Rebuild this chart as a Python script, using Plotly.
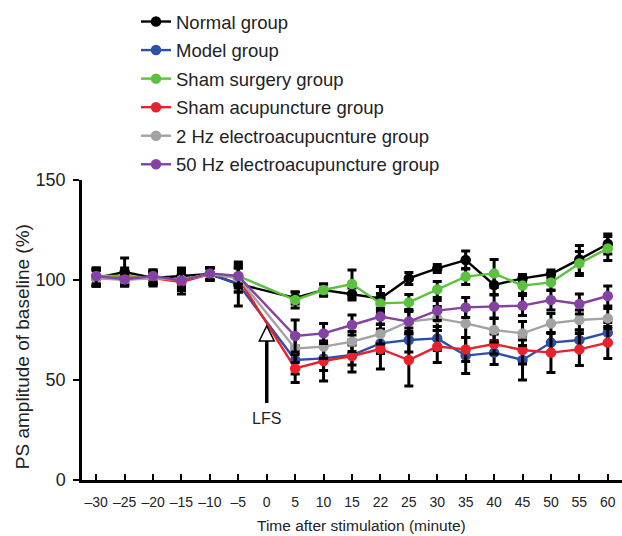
import plotly.graph_objects as go

x_labels = ["–30", "–25", "–20", "–15", "–10", "–5", "0", "5", "10", "15",
            "22", "25", "30", "35", "40", "45", "50", "55", "60"]

series_names = ["Normal group", "Model group", "Sham surgery group",
                "Sham acupuncture group", "2 Hz electroacupucnture group",
                "50 Hz electroacupuncture group"]

normal = [101, 104, 101, 102, 103, 98, None, 91, 95, 93, 90.8, 100.8, 105.8, 110, 97.5, 100.8, 103, 110.3, 118]
model = [101, 101, 101, 100, 103, 98, None, 60, 60.8, 62.5, 68.3, 70, 70.8, 62.2, 63.7, 60, 68.7, 70, 73.7]
sham_surgery = [102, 102, 101, 100, 103, 102, None, 90, 95, 98, 88.3, 88.8, 95.3, 101.7, 103.3, 97.2, 98.8, 108.3, 115.8]
sham_acu = [101, 101, 101, 99, 103, 101, None, 55.8, 59.5, 62, 65.5, 60, 66.7, 65.3, 68, 65, 63.7, 65.3, 68.7]
ea_2hz = [101, 100, 101, 100, 103, 101, None, 65.8, 66.7, 69.2, 73, 79.2, 80.8, 78.3, 75, 73.3, 78.3, 80, 80.8]
ea_50hz = [102, 100.3, 102, 99.7, 103.3, 102, None, 72, 73.3, 77.5, 81.7, 79.2, 84.7, 86.3, 86.7, 87.2, 90, 88, 92]

err_normal = [4, 7, 4, 4, 3, 4, None, 3, 3, 3, 6, 3, 2, 4.5, 5, 2, 2, 7, 5]
err_model = [4, 3, 3, 4, 3, 11, None, 7, 6, 5, 5, 6, 6, 9, 6, 10, 5, 5, 5]
err_sham_surgery = [4, 4, 3, 3, 3, 5, None, 4, 3, 7, 5, 4, 4, 4, 7, 4, 4, 6, 6]
err_sham_acu = [4, 3, 3, 6, 3, 7, None, 7, 10, 8, 10, 13, 8, 6, 5, 7, 10, 8, 8]
err_2hz = [4, 3, 3, 4, 3, 5, None, 7, 6, 5, 5, 6, 6, 7, 6, 6, 5, 5, 5]
err_50hz = [4, 3, 3, 5, 3, 4, None, 8, 5, 5, 4, 5, 5, 5, 6, 5, 5, 5, 5]

colors = ["#000000", "#2f4ea6", "#5cc13f", "#e8212b", "#a3a3a3", "#8442a2"]

values = [normal, model, sham_surgery, sham_acu, ea_2hz, ea_50hz]
errors = [err_normal, err_model, err_sham_surgery, err_sham_acu, err_2hz, err_50hz]

FONT = "Liberation Sans, Arial, sans-serif"
TXT = "#222222"

fig = go.Figure()
for i, (name, vals, errs, col) in enumerate(zip(series_names, values, errors, colors)):
    fig.add_trace(go.Scatter(
        x=x_labels, y=vals, name=name, mode="lines+markers",
        connectgaps=True, legendgroup=f"g{i}",
        line=dict(color=col, width=2.4),
        marker=dict(color=col, size=10.5, symbol="circle"),
        error_y=dict(type="data", array=errs, visible=True,
                     color="#000000", thickness=3, width=4.5),
    ))

lfs_idx = x_labels.index("0")

fig.add_shape(type="line", xref="x", yref="y", x0=lfs_idx, x1=lfs_idx,
              y0=38.5, y1=70, line=dict(color="black", width=3.5))
fig.add_shape(type="path", xref="x", yref="y", xsizemode="pixel", xanchor=lfs_idx,
              path="M-7.5,69.5 L0,77 L7.5,69.5 Z",
              fillcolor="white", line=dict(color="black", width=1.5))
fig.add_annotation(x=lfs_idx, y=31, xref="x", yref="y", text="LFS",
                   showarrow=False, font=dict(family=FONT, size=16, color=TXT))

# axis titles as annotations (placed like the reference)
fig.add_annotation(x=-0.111, y=0.443, xref="paper", yref="paper",
                   text="PS amplitude of baseline (%)", textangle=-90,
                   showarrow=False, xanchor="center", yanchor="middle",
                   font=dict(family=FONT, size=19, color=TXT))
fig.add_annotation(x=0.5185, y=-0.153, xref="paper", yref="paper",
                   text="Time after stimulation (minute)",
                   showarrow=False, xanchor="center", yanchor="middle",
                   font=dict(family=FONT, size=15.5, color=TXT))

fig.update_layout(
    width=622, height=536,
    margin=dict(l=82, r=0, t=180, b=56, autoexpand=False),
    paper_bgcolor="white", plot_bgcolor="white",
    font=dict(family=FONT, color=TXT),
    showlegend=True,
    legend=dict(x=0.1, y=1.59, xanchor="left", yanchor="top",
                font=dict(family=FONT, size=18.5, color=TXT),
                traceorder="grouped", tracegroupgap=1.5,
                bgcolor="rgba(0,0,0,0)", itemwidth=30),
    xaxis=dict(type="category", range=[-0.5, 18.5],
               showline=True, linecolor="black", linewidth=2.5,
               ticks="inside", ticklen=6, tickwidth=2, tickcolor="black",
               showgrid=False, zeroline=False, automargin=False,
               ticklabelstandoff=7,
               tickfont=dict(family=FONT, size=14, color=TXT)),
    yaxis=dict(range=[0, 150], tickvals=[0, 50, 100, 150],
               showline=True, linecolor="black", linewidth=2.5,
               ticks="outside", ticklen=6, tickwidth=2, tickcolor="black",
               showgrid=False, zeroline=False, automargin=False,
               ticklabelstandoff=4,
               tickfont=dict(family=FONT, size=18, color=TXT)),
)

fig.write_html("out.html", config={"displayModeBar": False},
               post_script="document.body.style.margin='0px';document.body.style.overflow='hidden';")
